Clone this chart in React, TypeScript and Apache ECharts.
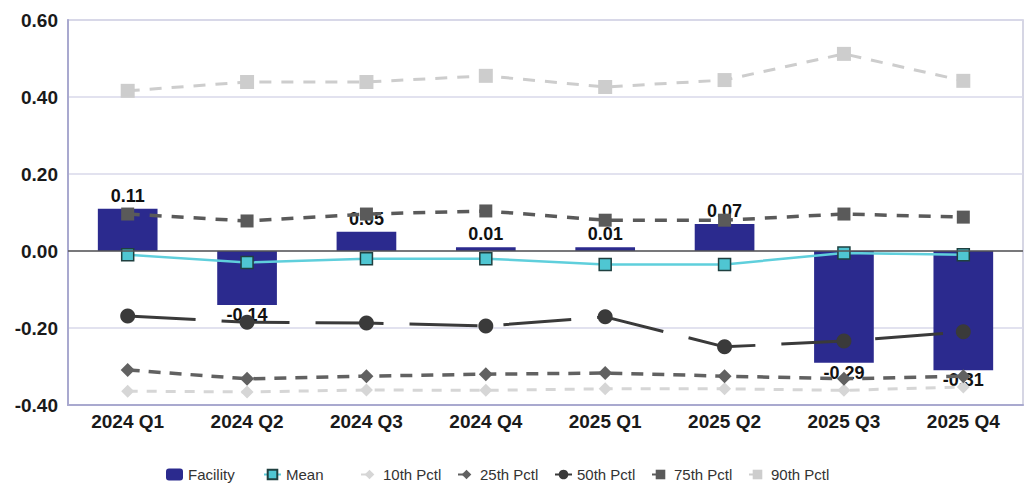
import React, { useEffect, useRef } from "react";
import * as echarts from "echarts";

const categories = ["2024 Q1", "2024 Q2", "2024 Q3", "2024 Q4", "2025 Q1", "2025 Q2", "2025 Q3", "2025 Q4"];
const facility = [0.11, -0.14, 0.05, 0.01, 0.01, 0.07, -0.29, -0.31];
const meanVals = [-0.01, -0.03, -0.02, -0.02, -0.035, -0.035, -0.005, -0.01];
const p10 = [-0.364, -0.366, -0.361, -0.362, -0.358, -0.358, -0.362, -0.353];
const p25 = [-0.309, -0.332, -0.325, -0.32, -0.317, -0.325, -0.332, -0.325];
const p50 = [-0.169, -0.185, -0.187, -0.195, -0.171, -0.249, -0.234, -0.21];
const p75 = [0.096, 0.078, 0.096, 0.104, 0.08, 0.08, 0.096, 0.088];
const p90 = [0.416, 0.439, 0.439, 0.455, 0.426, 0.444, 0.512, 0.442];
const legendNames = ["Facility", "Mean", "10th Pctl", "25th Pctl", "50th Pctl", "75th Pctl", "90th Pctl"];
const yTicks = { min: -0.4, max: 0.6, interval: 0.2 };

const FONT = "Arial, 'Liberation Sans', sans-serif";

export default function App() {
  const ref = useRef<HTMLDivElement>(null);
  useEffect(() => {
    if (!ref.current) return;
    const chart = echarts.init(ref.current, undefined, { renderer: "svg" });
    const pctLine = (name: string, data: number[], color: string, symbol: string, size: number, dash: number[], width: number) => ({
      name,
      type: "line",
      data,
      symbol,
      symbolSize: size,
      z: 3,
      lineStyle: { color, width, type: dash },
      itemStyle: { color, borderWidth: 0 },
    });
    chart.setOption({
      animation: false,
      grid: {
        left: 68,
        right: 9,
        top: 20,
        bottom: 78,
        show: true,
        borderColor: "#c9c9dc",
        borderWidth: 1.5,
      },
      legend: legendNames.map((name, i) => ({
        left: 161 + i * 97,
        top: 462,
        itemWidth: 17,
        itemHeight: 12,
        textStyle: { fontFamily: FONT, fontSize: 15, color: "#333" },
        data: [name],
      })),
      xAxis: {
        type: "category",
        data: categories,
        axisLine: { onZero: false, lineStyle: { color: "#a9a9cf", width: 2 } },
        axisTick: { show: false },
        axisLabel: { fontFamily: FONT, fontSize: 19, fontWeight: "bold", color: "#1a1a1a", margin: 7 },
      },
      yAxis: {
        type: "value",
        min: yTicks.min,
        max: yTicks.max,
        interval: yTicks.interval,
        axisLine: { show: true, lineStyle: { color: "#a9a9cf", width: 2 } },
        axisTick: { show: false },
        splitLine: { lineStyle: { color: "#d8d8ea", width: 1.5 } },
        axisLabel: {
          fontFamily: FONT,
          fontSize: 19,
          fontWeight: "bold",
          color: "#1a1a1a",
          margin: 10,
          formatter: (v: number) => v.toFixed(2),
        },
      },
      series: [
        {
          name: "Facility",
          type: "bar",
          barWidth: "50%",
          z: 2,
          itemStyle: { color: "#2b2a8e" },
          data: facility.map((v) => ({
            value: v,
            label: { position: v >= 0 ? "top" : "bottom", distance: v >= 0 ? 4 : 1 },
          })),
          label: {
            show: true,
            fontFamily: FONT,
            fontSize: 18,
            fontWeight: "bold",
            color: "#111",
            formatter: (p: any) => Number(p.value).toFixed(2),
          },
          markLine: {
            silent: true,
            symbol: "none",
            label: { show: false },
            lineStyle: { color: "#555", width: 1.5, type: "solid" },
            data: [{ yAxis: 0 }],
          },
        },
        {
          name: "Mean",
          type: "line",
          data: meanVals,
          symbol: "rect",
          symbolSize: 12,
          z: 4,
          lineStyle: { color: "#5fcfdc", width: 2.5 },
          itemStyle: { color: "#4fc6d2", borderColor: "#1f4040", borderWidth: 1.5 },
        },
        pctLine("10th Pctl", p10, "#d6d6d6", "diamond", 13, [10, 9], 3),
        pctLine("25th Pctl", p25, "#616161", "diamond", 14, [12, 9], 3.5),
        pctLine("50th Pctl", p50, "#3a3a3a", "circle", 15, [68, 26], 3),
        pctLine("75th Pctl", p75, "#5a5a5a", "rect", 13, [12, 10], 3.5),
        pctLine("90th Pctl", p90, "#cdcdcd", "rect", 14, [12, 10], 3),
      ],
    });
    return () => chart.dispose();
  }, []);
  return <div ref={ref} style={{ position: "absolute", left: 0, top: 0, width: 1032, height: 483 }} />;
}
